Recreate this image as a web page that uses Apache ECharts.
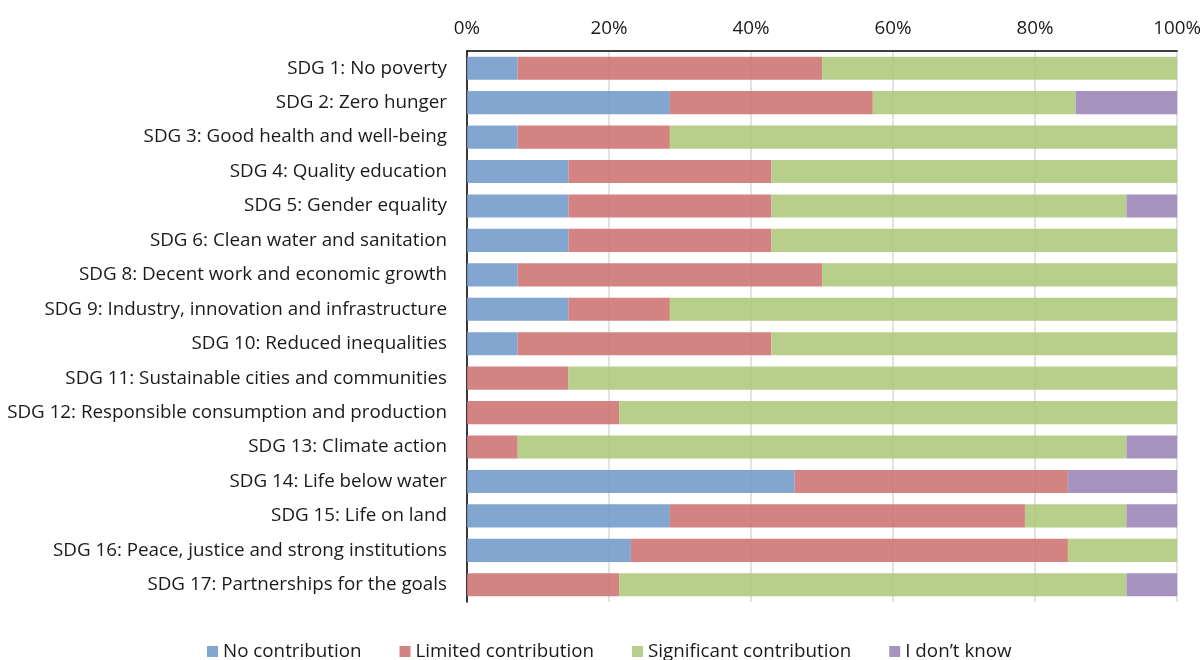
<!DOCTYPE html>
<html><head><meta charset="utf-8">
<script src="https://cdn.jsdelivr.net/npm/echarts@6/dist/echarts.min.js"></script>
<style>html,body{margin:0;padding:0;background:#fff}#c{width:1204px;height:660px}</style>
</head><body><div id="c"></div>
<script>
const categories = [
  'SDG 1: No poverty',
  'SDG 2: Zero hunger',
  'SDG 3: Good health and well-being',
  'SDG 4: Quality education',
  'SDG 5: Gender equality',
  'SDG 6: Clean water and sanitation',
  'SDG 8: Decent work and economic growth',
  'SDG 9: Industry, innovation and infrastructure',
  'SDG 10: Reduced inequalities',
  'SDG 11: Sustainable cities and communities',
  'SDG 12: Responsible consumption and production',
  'SDG 13: Climate action',
  'SDG 14: Life below water',
  'SDG 15: Life on land',
  'SDG 16: Peace, justice and strong institutions',
  'SDG 17: Partnerships for the goals'
];
const noContribution      = [7.14, 28.57, 7.14, 14.29, 14.29, 14.29, 7.14, 14.28, 7.14, 0, 0, 0, 46.15, 28.57, 23.08, 0];
const limitedContribution = [42.86, 28.57, 21.43, 28.57, 28.57, 28.57, 42.86, 14.29, 35.71, 14.29, 21.43, 7.14, 38.46, 50.00, 61.54, 21.43];
const significantContribution = [50.00, 28.57, 71.43, 57.14, 50.00, 57.14, 50.00, 71.43, 57.15, 85.71, 78.57, 85.72, 0, 14.29, 15.38, 71.43];
const dontKnow            = [0, 14.29, 0, 0, 7.14, 0, 0, 0, 0, 0, 0, 7.14, 15.39, 7.14, 0, 7.14];
const seriesNames = ['No contribution', 'Limited contribution', 'Significant contribution', 'I don\u2019t know'];
const tickValues = [0, 20, 40, 60, 80, 100];

const FONT = 'Open Sans';
const FS = 18.8;
const colors = ['#749ccb', '#ce7573', '#b0ca7e', '#9c87b8'];
const dataSets = [noContribution, limitedContribution, significantContribution, dontKnow];

const chart = echarts.init(document.getElementById('c'), null, {renderer: 'canvas'});
chart.setOption({
  animation: false,
  textStyle: {fontFamily: FONT},
  grid: {left: 467, right: 26, top: 51, bottom: 58, containLabel: false},
  legend: {
    data: seriesNames,
    top: 642,
    left: 207,
    padding: 0,
    itemWidth: 11, itemHeight: 11, itemGap: 38,
    icon: 'rect',
    textStyle: {fontFamily: FONT, fontSize: FS, color: '#1a1a1a', padding: [0,0,0,0]}
  },
  xAxis: {
    type: 'value', position: 'top', min: 0, max: 100, interval: 20,
    axisLine: {show: true, lineStyle: {color: '#000', width: 1.5}},
    axisTick: {show: false},
    splitLine: {show: true, lineStyle: {color: '#d9d9d9', width: 1.5}},
    axisLabel: {fontFamily: FONT, fontSize: FS, color: '#1a1a1a', margin: 13,
      formatter: v => tickValues.includes(v) ? v + '%' : ''}
  },
  yAxis: {
    type: 'category', data: categories, inverse: true,
    axisLine: {show: true, lineStyle: {color: '#000', width: 1.5}},
    axisTick: {show: false},
    axisLabel: {fontFamily: FONT, fontSize: FS, color: '#1a1a1a', margin: 20}
  },
  series: dataSets.map((d, i) => ({
    name: seriesNames[i], type: 'bar', stack: 'total', data: d,
    barCategoryGap: '33%',
    itemStyle: {color: colors[i], opacity: 0.9},
    emphasis: {disabled: true}
  }))
});
</script></body></html>
